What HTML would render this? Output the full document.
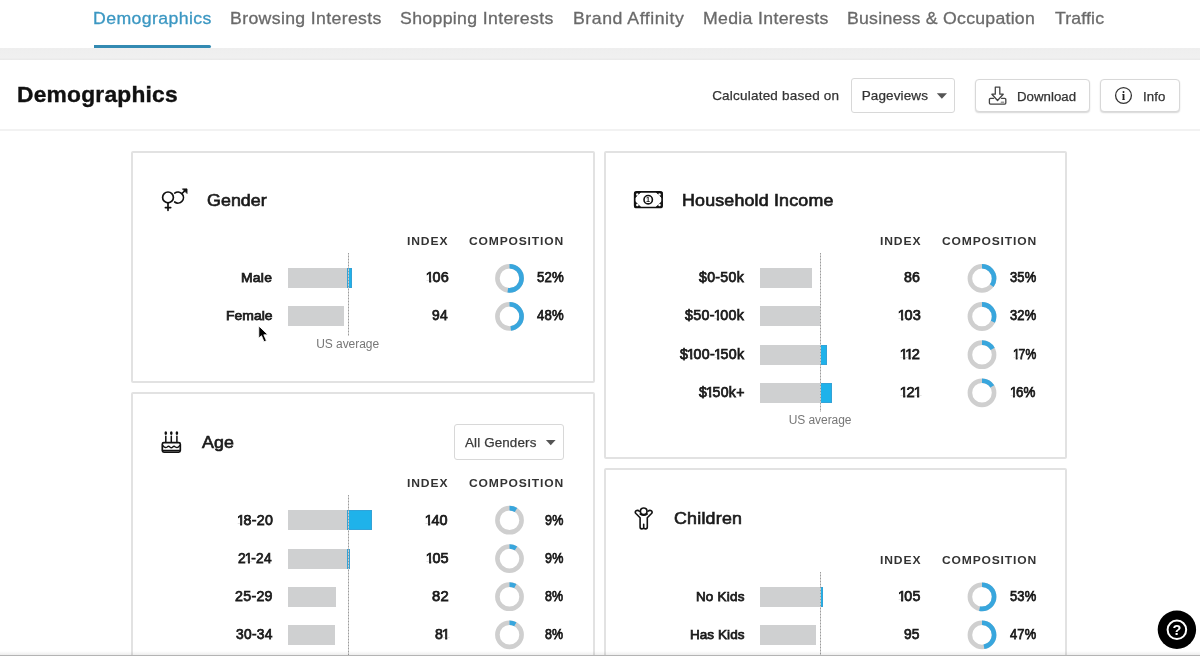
<!DOCTYPE html>
<html><head><meta charset="utf-8"><title>Demographics</title>
<style>
*{box-sizing:border-box;margin:0;padding:0}
html,body{width:1200px;height:656px;overflow:hidden;background:#fff}
body{font-family:"Liberation Sans",sans-serif;color:#111;position:relative}
.abs{position:absolute}
.t{position:absolute;white-space:nowrap;transform-origin:0 0}
#ul{position:absolute;left:94px;top:45px;width:116.8px;height:3.2px;background:#338ab2;border-radius:0 1.5px 1.5px 0}
#band{position:absolute;left:0;top:48.2px;width:1200px;height:11.6px;background:linear-gradient(#eee 0,#f0f0f0 80%,#e8e8e8 100%)}
#hdrline{position:absolute;left:0;top:129px;width:1200px;height:2px;background:#f2f2f2}
.card{position:absolute;border:2px solid #e2e2e2;border-radius:2px;background:#fff}
.bar{position:absolute;height:20px;background:#cfd0d1}
.blue{position:absolute;height:20px;background:#1fb2ea;box-shadow:inset 0 0 0 0.8px #3a9fd2}
.avg{position:absolute;width:1px;background:repeating-linear-gradient(#9c9c9c 0,#9c9c9c 1px,#cacaca 1px,#cacaca 3px)}
.btn{position:absolute;border:1px solid #d8d8d8;border-radius:3px;background:#fff}
.n1{display:inline-block;margin-left:-1.1px;margin-right:-1.7px;clip-path:polygon(-1px 0,9px 0,9px 11.3px,5.15px 11.3px,5.15px 17px,3.15px 17px,3.15px 11.3px,-1px 11.3px)}

</style></head><body>
<div id="ul"></div>
<div id="band"></div>
<div id="hdrline"></div>
<div class="btn" style="left:851px;top:77.5px;width:104px;height:35.5px"></div>
<div class="btn" style="left:975.3px;top:78.8px;width:115px;height:33.2px;border-color:#d8d8d8;border-radius:4px;box-shadow:0 1px 1.5px rgba(0,0,0,.16)"></div>
<div class="btn" style="left:1100.2px;top:78.8px;width:79.600px;height:33.2px;border-color:#d8d8d8;border-radius:4px;box-shadow:0 1px 1.5px rgba(0,0,0,.16)"></div>

<div class="card" style="left:131.300px;top:150.500px;width:463.300px;height:232px"></div>
<div class="card" style="left:131.300px;top:392.300px;width:463.300px;height:300px"></div>
<div class="card" style="left:603.500px;top:150.500px;width:463.300px;height:308.800px"></div>
<div class="card" style="left:603.500px;top:468.100px;width:463.300px;height:300px"></div>
<div class="btn" style="left:454px;top:424px;width:110px;height:35.5px"></div>
<div class="bar" style="left:287.5px;top:268.2px;width:60.5px"></div>
<div class="blue" style="left:347.0px;top:268.2px;width:4.8px"></div>

<div class="bar" style="left:287.5px;top:306.3px;width:56.2px"></div>

<div class="avg" style="left:347.5px;top:253px;height:83px"></div>
<div class="bar" style="left:287.5px;top:510.1px;width:60.1px"></div>
<div class="blue" style="left:347.0px;top:510.1px;width:24.8px"></div>

<div class="bar" style="left:287.5px;top:548.5px;width:60.1px"></div>
<div class="blue" style="left:347.0px;top:548.5px;width:2.7px"></div>

<div class="bar" style="left:287.5px;top:586.6px;width:48.8px"></div>

<div class="bar" style="left:287.5px;top:624.7px;width:47.7px"></div>

<div class="avg" style="left:347.5px;top:495px;height:161px"></div>
<div class="bar" style="left:760.0px;top:268.3px;width:52.0px"></div>

<div class="bar" style="left:760.0px;top:306.4px;width:60.3px"></div>
<div class="blue" style="left:819.5px;top:306.4px;width:1.7px"></div>

<div class="bar" style="left:760.0px;top:344.6px;width:60.3px"></div>
<div class="blue" style="left:819.5px;top:344.6px;width:7.5px"></div>

<div class="bar" style="left:760.0px;top:382.7px;width:60.3px"></div>
<div class="blue" style="left:819.5px;top:382.7px;width:12.7px"></div>

<div class="avg" style="left:820.0px;top:253px;height:159px"></div>
<div class="bar" style="left:760.0px;top:586.7px;width:60.3px"></div>
<div class="blue" style="left:819.5px;top:586.7px;width:3.3px"></div>

<div class="bar" style="left:760.0px;top:624.8px;width:56.0px"></div>

<div class="avg" style="left:820.0px;top:571.5px;height:84.5px"></div>
<div class="t" id="t0" style="left:93.10px;top:9px;font-size:17px;line-height:19px;font-weight:normal;color:#3b97c2;letter-spacing:0.385px;transform:scaleX(1.0400);-webkit-text-stroke:0.3px #3b97c2;">Demographics</div>
<div class="t" id="t1" style="left:230.10px;top:9px;font-size:17px;line-height:19px;font-weight:normal;color:#6a6a6a;letter-spacing:0.338px;transform:scaleX(1.0400);-webkit-text-stroke:0.3px #6a6a6a;">Browsing Interests</div>
<div class="t" id="t2" style="left:399.83px;top:9px;font-size:17px;line-height:19px;font-weight:normal;color:#6a6a6a;letter-spacing:0.331px;transform:scaleX(1.0400);-webkit-text-stroke:0.3px #6a6a6a;">Shopping Interests</div>
<div class="t" id="t3" style="left:573.10px;top:9px;font-size:17px;line-height:19px;font-weight:normal;color:#6a6a6a;letter-spacing:0.517px;transform:scaleX(1.0400);-webkit-text-stroke:0.3px #6a6a6a;">Brand Affinity</div>
<div class="t" id="t4" style="left:703.10px;top:9px;font-size:17px;line-height:19px;font-weight:normal;color:#6a6a6a;letter-spacing:0.311px;transform:scaleX(1.0400);-webkit-text-stroke:0.3px #6a6a6a;">Media Interests</div>
<div class="t" id="t5" style="left:847.10px;top:9px;font-size:17px;line-height:19px;font-weight:normal;color:#6a6a6a;letter-spacing:0.237px;transform:scaleX(1.0400);-webkit-text-stroke:0.3px #6a6a6a;">Business &amp; Occupation</div>
<div class="t" id="t6" style="left:1055.00px;top:9px;font-size:17px;line-height:19px;font-weight:normal;color:#6a6a6a;letter-spacing:0.136px;transform:scaleX(1.0400);-webkit-text-stroke:0.3px #6a6a6a;">Traffic</div>
<div class="t" id="t7" style="left:17.10px;top:83px;font-size:21.5px;line-height:24px;font-weight:bold;color:#111;letter-spacing:0.204px;transform:scaleX(1.0600);-webkit-text-stroke:0.35px #111;">Demographics</div>
<div class="t" id="t8" style="left:712.17px;top:88px;font-size:13.5px;line-height:15px;font-weight:normal;color:#333;letter-spacing:0.213px;-webkit-text-stroke:0.25px #333;">Calculated based on</div>
<div class="t" id="t9" style="left:861.64px;top:88px;font-size:13.5px;line-height:15px;font-weight:normal;color:#333;letter-spacing:0.133px;-webkit-text-stroke:0.25px #333;">Pageviews</div>
<div class="t" id="t10" style="left:1017.30px;top:90px;font-size:12.5px;line-height:14px;font-weight:normal;color:#333;letter-spacing:0.021px;transform:scaleX(1.0600);-webkit-text-stroke:0.25px #333;">Download</div>
<div class="t" id="t11" style="left:1143.14px;top:90px;font-size:12.5px;line-height:14px;font-weight:normal;color:#333;letter-spacing:0.086px;transform:scaleX(1.0600);-webkit-text-stroke:0.25px #333;">Info</div>
<div class="t" id="t12" style="left:206.78px;top:191px;font-size:16.5px;line-height:18px;font-weight:normal;color:#1a1a1a;letter-spacing:0.054px;transform:scaleX(1.0800);-webkit-text-stroke:0.65px #1a1a1a;">Gender</div>
<div class="t" id="t13" style="left:406.89px;top:235px;font-size:10.5px;line-height:12px;font-weight:bold;color:#333;letter-spacing:0.778px;transform:scaleX(1.1500);">INDEX</div>
<div class="t" id="t14" style="left:468.85px;top:235px;font-size:10.5px;line-height:12px;font-weight:bold;color:#333;letter-spacing:0.717px;transform:scaleX(1.1500);">COMPOSITION</div>
<div class="t" id="t15" style="left:241.10px;top:270px;font-size:13.5px;line-height:15px;font-weight:normal;color:#1a1a1a;letter-spacing:0.258px;transform:scaleX(1.0300);-webkit-text-stroke:0.75px #1a1a1a;">Male</div>
<div class="t" id="t16" style="left:426.51px;top:269px;font-size:14px;line-height:16px;font-weight:normal;color:#1a1a1a;letter-spacing:0.200px;transform:scaleX(1.0320);-webkit-text-stroke:0.75px #1a1a1a;"><span class="n1">1</span>06</div>
<div class="t" id="t17" style="left:536.54px;top:269px;font-size:14px;line-height:16px;font-weight:normal;color:#1a1a1a;letter-spacing:0.200px;transform:scaleX(0.9436);-webkit-text-stroke:0.75px #1a1a1a;">52%</div>
<div class="t" id="t18" style="left:226.04px;top:308px;font-size:13.5px;line-height:15px;font-weight:normal;color:#1a1a1a;letter-spacing:0.032px;transform:scaleX(1.0300);-webkit-text-stroke:0.75px #1a1a1a;">Female</div>
<div class="t" id="t19" style="left:432.02px;top:307px;font-size:14px;line-height:16px;font-weight:normal;color:#1a1a1a;letter-spacing:0.200px;transform:scaleX(0.9866);-webkit-text-stroke:0.75px #1a1a1a;">94</div>
<div class="t" id="t20" style="left:536.71px;top:307px;font-size:14px;line-height:16px;font-weight:normal;color:#1a1a1a;letter-spacing:0.200px;transform:scaleX(0.9388);-webkit-text-stroke:0.75px #1a1a1a;">48%</div>
<div class="t" id="t21" style="left:316.17px;top:337px;font-size:12px;line-height:14px;font-weight:normal;color:#777;letter-spacing:-0.051px;">US average</div>
<div class="t" id="t22" style="left:202.15px;top:433px;font-size:16.5px;line-height:18px;font-weight:normal;color:#1a1a1a;letter-spacing:0.086px;transform:scaleX(1.0800);-webkit-text-stroke:0.65px #1a1a1a;">Age</div>
<div class="t" id="t23" style="left:406.89px;top:477px;font-size:10.5px;line-height:12px;font-weight:bold;color:#333;letter-spacing:0.778px;transform:scaleX(1.1500);">INDEX</div>
<div class="t" id="t24" style="left:468.85px;top:477px;font-size:10.5px;line-height:12px;font-weight:bold;color:#333;letter-spacing:0.717px;transform:scaleX(1.1500);">COMPOSITION</div>
<div class="t" id="t25" style="left:237.65px;top:512px;font-size:14px;line-height:16px;font-weight:normal;color:#1a1a1a;letter-spacing:0.300px;transform:scaleX(1.0186);-webkit-text-stroke:0.75px #1a1a1a;"><span class="n1">1</span>8-20</div>
<div class="t" id="t26" style="left:426.35px;top:512px;font-size:14px;line-height:16px;font-weight:normal;color:#1a1a1a;letter-spacing:0.200px;transform:scaleX(1.0312);-webkit-text-stroke:0.75px #1a1a1a;"><span class="n1">1</span>40</div>
<div class="t" id="t27" style="left:545.46px;top:512px;font-size:14px;line-height:16px;font-weight:normal;color:#1a1a1a;letter-spacing:0.200px;transform:scaleX(0.8945);-webkit-text-stroke:0.75px #1a1a1a;">9%</div>
<div class="t" id="t28" style="left:238.48px;top:550px;font-size:14px;line-height:16px;font-weight:normal;color:#1a1a1a;letter-spacing:0.300px;transform:scaleX(0.9794);-webkit-text-stroke:0.75px #1a1a1a;">2<span class="n1">1</span>-24</div>
<div class="t" id="t29" style="left:426.56px;top:550px;font-size:14px;line-height:16px;font-weight:normal;color:#1a1a1a;letter-spacing:0.200px;transform:scaleX(1.0301);-webkit-text-stroke:0.75px #1a1a1a;"><span class="n1">1</span>05</div>
<div class="t" id="t30" style="left:545.46px;top:550px;font-size:14px;line-height:16px;font-weight:normal;color:#1a1a1a;letter-spacing:0.200px;transform:scaleX(0.8945);-webkit-text-stroke:0.75px #1a1a1a;">9%</div>
<div class="t" id="t31" style="left:234.54px;top:588px;font-size:14px;line-height:16px;font-weight:normal;color:#1a1a1a;letter-spacing:0.300px;transform:scaleX(1.0138);-webkit-text-stroke:0.75px #1a1a1a;">25-29</div>
<div class="t" id="t32" style="left:431.96px;top:588px;font-size:14px;line-height:16px;font-weight:normal;color:#1a1a1a;letter-spacing:0.200px;transform:scaleX(1.0540);-webkit-text-stroke:0.75px #1a1a1a;">82</div>
<div class="t" id="t33" style="left:545.02px;top:588px;font-size:14px;line-height:16px;font-weight:normal;color:#1a1a1a;letter-spacing:0.200px;transform:scaleX(0.8891);-webkit-text-stroke:0.75px #1a1a1a;">8%</div>
<div class="t" id="t34" style="left:235.98px;top:626px;font-size:14px;line-height:16px;font-weight:normal;color:#1a1a1a;letter-spacing:0.300px;transform:scaleX(0.9855);-webkit-text-stroke:0.75px #1a1a1a;">30-34</div>
<div class="t" id="t35" style="left:435.48px;top:626px;font-size:14px;line-height:16px;font-weight:normal;color:#1a1a1a;letter-spacing:0.200px;transform:scaleX(1.0125);-webkit-text-stroke:0.75px #1a1a1a;">8<span class="n1">1</span></div>
<div class="t" id="t36" style="left:545.02px;top:626px;font-size:14px;line-height:16px;font-weight:normal;color:#1a1a1a;letter-spacing:0.200px;transform:scaleX(0.8891);-webkit-text-stroke:0.75px #1a1a1a;">8%</div>
<div class="t" id="t37" style="left:465.04px;top:435px;font-size:13px;line-height:15px;font-weight:normal;color:#3a3a3a;letter-spacing:0.133px;transform:scaleX(1.0300);-webkit-text-stroke:0.25px #3a3a3a;">All Genders</div>
<div class="t" id="t38" style="left:681.64px;top:191px;font-size:16.5px;line-height:18px;font-weight:normal;color:#1a1a1a;letter-spacing:0.170px;transform:scaleX(1.0800);-webkit-text-stroke:0.65px #1a1a1a;">Household Income</div>
<div class="t" id="t39" style="left:879.83px;top:235px;font-size:10.5px;line-height:12px;font-weight:bold;color:#333;letter-spacing:0.778px;transform:scaleX(1.1500);">INDEX</div>
<div class="t" id="t40" style="left:941.79px;top:235px;font-size:10.5px;line-height:12px;font-weight:bold;color:#333;letter-spacing:0.717px;transform:scaleX(1.1500);">COMPOSITION</div>
<div class="t" id="t41" style="left:699.27px;top:269px;font-size:14px;line-height:16px;font-weight:normal;color:#1a1a1a;letter-spacing:0.300px;transform:scaleX(1.0091);-webkit-text-stroke:0.75px #1a1a1a;">$0-50k</div>
<div class="t" id="t42" style="left:904.02px;top:269px;font-size:14px;line-height:16px;font-weight:normal;color:#1a1a1a;letter-spacing:0.200px;transform:scaleX(1.0141);-webkit-text-stroke:0.75px #1a1a1a;">86</div>
<div class="t" id="t43" style="left:1009.98px;top:269px;font-size:14px;line-height:16px;font-weight:normal;color:#1a1a1a;letter-spacing:0.200px;transform:scaleX(0.9221);-webkit-text-stroke:0.75px #1a1a1a;">35%</div>
<div class="t" id="t44" style="left:684.79px;top:307px;font-size:14px;line-height:16px;font-weight:normal;color:#1a1a1a;letter-spacing:0.300px;transform:scaleX(1.0190);-webkit-text-stroke:0.75px #1a1a1a;">$50-<span class="n1">1</span>00k</div>
<div class="t" id="t45" style="left:898.54px;top:307px;font-size:14px;line-height:16px;font-weight:normal;color:#1a1a1a;letter-spacing:0.200px;transform:scaleX(1.0355);-webkit-text-stroke:0.75px #1a1a1a;"><span class="n1">1</span>03</div>
<div class="t" id="t46" style="left:1009.98px;top:307px;font-size:14px;line-height:16px;font-weight:normal;color:#1a1a1a;letter-spacing:0.200px;transform:scaleX(0.9221);-webkit-text-stroke:0.75px #1a1a1a;">32%</div>
<div class="t" id="t47" style="left:679.77px;top:346px;font-size:14px;line-height:16px;font-weight:normal;color:#1a1a1a;letter-spacing:0.300px;transform:scaleX(1.0162);-webkit-text-stroke:0.75px #1a1a1a;">$<span class="n1">1</span>00-<span class="n1">1</span>50k</div>
<div class="t" id="t48" style="left:901.10px;top:346px;font-size:14px;line-height:16px;font-weight:normal;color:#1a1a1a;letter-spacing:0.200px;transform:scaleX(1.0399);-webkit-text-stroke:0.75px #1a1a1a;"><span class="n1">1</span><span class="n1">1</span>2</div>
<div class="t" id="t49" style="left:1013.69px;top:346px;font-size:14px;line-height:16px;font-weight:normal;color:#1a1a1a;letter-spacing:0.200px;transform:scaleX(0.8650);-webkit-text-stroke:0.75px #1a1a1a;"><span class="n1">1</span>7%</div>
<div class="t" id="t50" style="left:699.27px;top:384px;font-size:14px;line-height:16px;font-weight:normal;color:#1a1a1a;letter-spacing:0.300px;transform:scaleX(1.0072);-webkit-text-stroke:0.75px #1a1a1a;">$<span class="n1">1</span>50k+</div>
<div class="t" id="t51" style="left:901.31px;top:384px;font-size:14px;line-height:16px;font-weight:normal;color:#1a1a1a;letter-spacing:0.200px;transform:scaleX(1.0518);-webkit-text-stroke:0.75px #1a1a1a;"><span class="n1">1</span>2<span class="n1">1</span></div>
<div class="t" id="t52" style="left:1011.40px;top:384px;font-size:14px;line-height:16px;font-weight:normal;color:#1a1a1a;letter-spacing:0.200px;transform:scaleX(0.9520);-webkit-text-stroke:0.75px #1a1a1a;"><span class="n1">1</span>6%</div>
<div class="t" id="t53" style="left:788.76px;top:413px;font-size:12px;line-height:14px;font-weight:normal;color:#777;letter-spacing:-0.076px;">US average</div>
<div class="t" id="t54" style="left:673.69px;top:509px;font-size:16.5px;line-height:18px;font-weight:normal;color:#1a1a1a;letter-spacing:0.210px;transform:scaleX(1.0800);-webkit-text-stroke:0.65px #1a1a1a;">Children</div>
<div class="t" id="t55" style="left:879.83px;top:554px;font-size:10.5px;line-height:12px;font-weight:bold;color:#333;letter-spacing:0.778px;transform:scaleX(1.1500);">INDEX</div>
<div class="t" id="t56" style="left:941.79px;top:554px;font-size:10.5px;line-height:12px;font-weight:bold;color:#333;letter-spacing:0.717px;transform:scaleX(1.1500);">COMPOSITION</div>
<div class="t" id="t57" style="left:695.88px;top:589px;font-size:13.5px;line-height:15px;font-weight:normal;color:#1a1a1a;letter-spacing:0.221px;-webkit-text-stroke:0.75px #1a1a1a;">No Kids</div>
<div class="t" id="t58" style="left:899.17px;top:588px;font-size:14px;line-height:16px;font-weight:normal;color:#1a1a1a;letter-spacing:0.200px;transform:scaleX(1.0161);-webkit-text-stroke:0.75px #1a1a1a;"><span class="n1">1</span>05</div>
<div class="t" id="t59" style="left:1010.00px;top:588px;font-size:14px;line-height:16px;font-weight:normal;color:#1a1a1a;letter-spacing:0.200px;transform:scaleX(0.9228);-webkit-text-stroke:0.75px #1a1a1a;">53%</div>
<div class="t" id="t60" style="left:689.88px;top:627px;font-size:13.5px;line-height:15px;font-weight:normal;color:#1a1a1a;letter-spacing:0.082px;-webkit-text-stroke:0.75px #1a1a1a;">Has Kids</div>
<div class="t" id="t61" style="left:904.48px;top:626px;font-size:14px;line-height:16px;font-weight:normal;color:#1a1a1a;letter-spacing:0.200px;transform:scaleX(0.9852);-webkit-text-stroke:0.75px #1a1a1a;">95</div>
<div class="t" id="t62" style="left:1010.17px;top:626px;font-size:14px;line-height:16px;font-weight:normal;color:#1a1a1a;letter-spacing:0.200px;transform:scaleX(0.9193);-webkit-text-stroke:0.75px #1a1a1a;">47%</div>
<svg class="abs" style="left:0;top:0" width="1200" height="656" viewBox="0 0 1200 656" fill="none" stroke-linecap="round" stroke-linejoin="round">
<g transform="translate(509.5 278.3)"><circle r="12.1" stroke="#cfcfcf" stroke-width="4.6"/><circle r="12.1" stroke="#38a6dd" stroke-width="4.6" stroke-linecap="butt" stroke-dasharray="39.53 76.03" transform="rotate(-90)"/></g>
<g transform="translate(509.5 316.4)"><circle r="12.1" stroke="#cfcfcf" stroke-width="4.6"/><circle r="12.1" stroke="#38a6dd" stroke-width="4.6" stroke-linecap="butt" stroke-dasharray="36.49 76.03" transform="rotate(-90)"/></g>
<g transform="translate(509.5 520.2)"><circle r="12.1" stroke="#cfcfcf" stroke-width="4.6"/><circle r="12.1" stroke="#38a6dd" stroke-width="4.6" stroke-linecap="butt" stroke-dasharray="6.84 76.03" transform="rotate(-90)"/></g>
<g transform="translate(509.5 558.6)"><circle r="12.1" stroke="#cfcfcf" stroke-width="4.6"/><circle r="12.1" stroke="#38a6dd" stroke-width="4.6" stroke-linecap="butt" stroke-dasharray="6.84 76.03" transform="rotate(-90)"/></g>
<g transform="translate(509.5 596.7)"><circle r="12.1" stroke="#cfcfcf" stroke-width="4.6"/><circle r="12.1" stroke="#38a6dd" stroke-width="4.6" stroke-linecap="butt" stroke-dasharray="6.08 76.03" transform="rotate(-90)"/></g>
<g transform="translate(509.5 634.8)"><circle r="12.1" stroke="#cfcfcf" stroke-width="4.6"/><circle r="12.1" stroke="#38a6dd" stroke-width="4.6" stroke-linecap="butt" stroke-dasharray="6.08 76.03" transform="rotate(-90)"/></g>
<g transform="translate(982.0 278.4)"><circle r="12.1" stroke="#cfcfcf" stroke-width="4.6"/><circle r="12.1" stroke="#38a6dd" stroke-width="4.6" stroke-linecap="butt" stroke-dasharray="26.61 76.03" transform="rotate(-90)"/></g>
<g transform="translate(982.0 316.5)"><circle r="12.1" stroke="#cfcfcf" stroke-width="4.6"/><circle r="12.1" stroke="#38a6dd" stroke-width="4.6" stroke-linecap="butt" stroke-dasharray="24.33 76.03" transform="rotate(-90)"/></g>
<g transform="translate(982.0 354.7)"><circle r="12.1" stroke="#cfcfcf" stroke-width="4.6"/><circle r="12.1" stroke="#38a6dd" stroke-width="4.6" stroke-linecap="butt" stroke-dasharray="12.92 76.03" transform="rotate(-90)"/></g>
<g transform="translate(982.0 392.8)"><circle r="12.1" stroke="#cfcfcf" stroke-width="4.6"/><circle r="12.1" stroke="#38a6dd" stroke-width="4.6" stroke-linecap="butt" stroke-dasharray="12.16 76.03" transform="rotate(-90)"/></g>
<g transform="translate(982.0 596.8)"><circle r="12.1" stroke="#cfcfcf" stroke-width="4.6"/><circle r="12.1" stroke="#38a6dd" stroke-width="4.6" stroke-linecap="butt" stroke-dasharray="40.29 76.03" transform="rotate(-90)"/></g>
<g transform="translate(982.0 634.9)"><circle r="12.1" stroke="#cfcfcf" stroke-width="4.6"/><circle r="12.1" stroke="#38a6dd" stroke-width="4.6" stroke-linecap="butt" stroke-dasharray="35.73 76.03" transform="rotate(-90)"/></g>
<!-- dropdown arrows -->
<path d="M936.8 93.3h10.2l-5.1 5.4z" fill="#555"/>
<path d="M545.9 439.9h9.7l-4.85 5.3z" fill="#555"/>
<!-- download icon -->
<g stroke="#444" stroke-width="1.3">
<path d="M993.6 98.3h-3.1a1.1 1.1 0 0 0-1.1 1.1v3.6a1.1 1.1 0 0 0 1.1 1.1h14.2a1.1 1.1 0 0 0 1.1-1.1v-3.6a1.1 1.1 0 0 0-1.1-1.1h-3.1"/>
<path d="M995.3 87.1h4.500v7.100h3.400l-5.650 6.300-5.650-6.300h3.400z" fill="#fff"/>
<path d="M1001.3 102.2h2.4" stroke="#999" stroke-width="1.4"/>
</g>
<!-- info icon -->
<circle cx="1123.5" cy="95.5" r="7.9" stroke="#333" stroke-width="1.3"/>
<text x="1123.5" y="99.8" text-anchor="middle" font-family="Liberation Serif,serif" font-weight="bold" font-size="12.5" fill="#222" stroke="none">i</text>
<!-- gender icon -->
<g stroke="#111" stroke-width="1.7">
<circle cx="168" cy="197.4" r="5.4"/>
<path d="M168 203v7.3M165.4 207.6h5.3"/>
<path d="M174.7 193.1a5.5 5.5 0 1 1 0 8.900"/>
<path d="M182 193.500l3.500-3.300"/>
<path d="M182.8 188.9h4.2v4.2z" fill="#111" stroke-width="0.9"/>
</g>
<!-- age icon -->
<g stroke="#111">
<rect x="162.3" y="442.6" width="18" height="9.5" rx="1.6" stroke-width="1.7"/>
<path d="M163 450.3h16.6" stroke-width="1.3"/>
<path d="M163 445.600q1.900 3 4.200 1.300q1.400-1.300 2.700 0.100q1.400 1.500 2.800 0q1.300-1.400 2.700-0.100q2.300 1.700 4.200-1.300" stroke-width="1.300"/>
<path d="M165.8 436.2v6M171.3 436.2v6M176.9 436.2v6" stroke-width="1.5"/>
<g fill="#111" stroke="none"><ellipse cx="165.8" cy="433.1" rx="1.3" ry="1.9"/><ellipse cx="171.3" cy="433.1" rx="1.3" ry="1.9"/><ellipse cx="176.9" cy="433.1" rx="1.3" ry="1.9"/></g>
</g>
<!-- income icon -->
<g stroke="#111">
<rect x="634.7" y="191.800" width="27.400" height="15.700" rx="2" stroke-width="1.700"/>
<path d="M635 192.100h5.800l-5.800 5.600zM661.800 192.100h-5.800l5.800 5.600zM635 207.200h5.800l-5.800-5.600zM661.800 207.200h-5.800l5.800-5.600z" fill="#111" stroke-width="0.800"/>
<g fill="#fff" stroke="none"><circle cx="637.300" cy="194.400" r="1.25"/><circle cx="659.500" cy="194.400" r="1.25"/><circle cx="637.300" cy="204.900" r="1.25"/><circle cx="659.500" cy="204.900" r="1.25"/></g>
<circle cx="648.200" cy="199.700" r="4.200" stroke-width="1.600"/>
<text x="648.100" y="202.300" text-anchor="middle" font-family="Liberation Sans,sans-serif" font-weight="bold" font-size="7.200" fill="#111" stroke="none">1</text>
</g>
<!-- children icon -->
<g stroke="#111" stroke-width="1.6">
<circle cx="643.7" cy="511.3" r="3.3" fill="#fff"/>
<path d="M639.400 511.300q-1.700-1.700-3.500-0.400q-1.300 1.200 0 2.600l4.200 4.200v9.300q0 1.900 1.700 1.900q1.700 0 1.900-1.600v-3v3q0.200 1.600 1.900 1.600q1.700 0 1.700-1.900v-9.300l4.200-4.200q1.300-1.400 0-2.600q-1.800-1.300-3.500 0.400"/>
<path d="M640.2 514q3.500 2.300 7 0" />
</g>
<!-- help button -->
<circle cx="1176.9" cy="629.7" r="19.2" fill="#000"/>
<circle cx="1176.9" cy="629.8" r="9.3" stroke="#fff" stroke-width="2"/>
<text x="1176.9" y="635" text-anchor="middle" font-family="Liberation Sans,sans-serif" font-weight="bold" font-size="14.5" fill="#fff" stroke="none">?</text>
<!-- cursor -->
<path d="M258.800 326.300v11.800l2.700-2.400l2.500 6l2.400-1l-2.600-5.900h3.900z" fill="#000" stroke="#fff" stroke-width="0.8" stroke-linejoin="miter"/>
</svg>
<div class="abs" style="left:0;top:654.5px;width:1200px;height:1.5px;background:#b4b4b4"></div>
<div class="abs" style="left:0;top:651px;width:1200px;height:3.5px;background:linear-gradient(rgba(0,0,0,0),rgba(0,0,0,.07))"></div>

</body></html>
